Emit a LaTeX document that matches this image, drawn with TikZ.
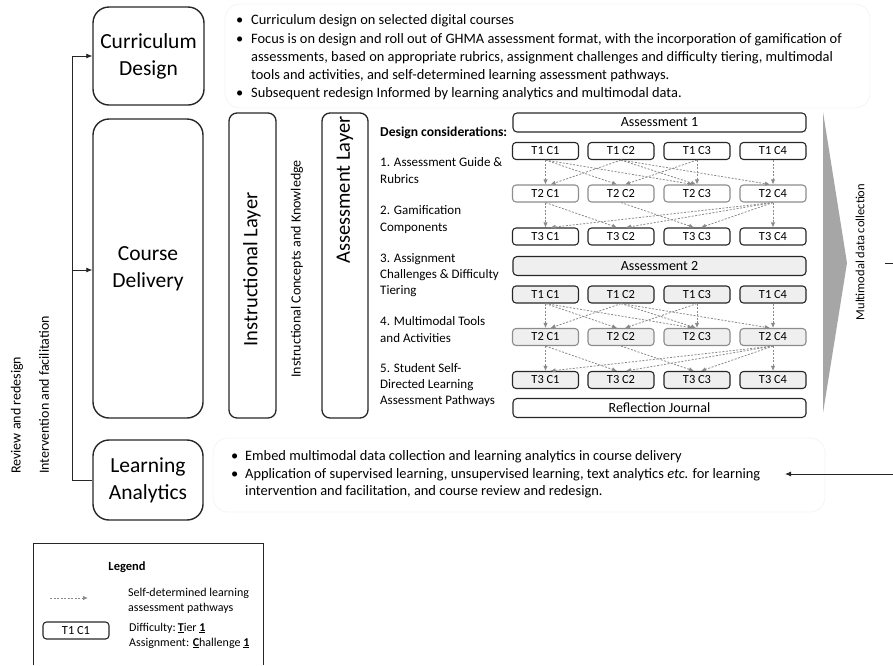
\documentclass[tikz,border=0pt]{standalone}
\usepackage{fontspec}
\setmainfont{Carlito}
\usetikzlibrary{arrows.meta}

\definecolor{ink}{HTML}{262626}
\definecolor{midgray}{HTML}{8C8C8C}
\definecolor{palefill}{HTML}{EFEFEF}
\definecolor{wedge}{HTML}{A6A6A6}
\definecolor{pathgray}{HTML}{8A8A8A}
\definecolor{faint}{HTML}{F4F4F4}

\tikzset{
  stagebox/.style={draw=ink, line width=1.4pt, rounded corners=16pt, align=center,
    font=\fontsize{21.5}{27}\selectfont, inner sep=0pt},
  layerbox/.style={draw=ink, line width=1.3pt, rounded corners=8pt, inner sep=0pt},
  bigvert/.style={rotate=90, inner sep=0pt, font=\fontsize{20.5}{24}\selectfont},
  sidevert/.style={rotate=90, anchor=west, inner sep=0pt, font=\fontsize{14}{17}\selectfont},
  bar/.style={draw=ink, line width=1.1pt, rounded corners=4pt, minimum width=293pt,
    minimum height=19pt, inner sep=0pt, font=\fontsize{14}{16}\selectfont},
  tcell/.style={draw=ink, line width=1.1pt, rounded corners=3.5pt, minimum width=66pt,
    minimum height=17pt, inner sep=0pt, font=\fontsize{12.4}{14}\selectfont},
  tcellmid/.style={tcell, draw=midgray},
  shaded/.style={fill=palefill},
  pathway/.style={draw=pathgray, line width=0.8pt, dash pattern=on 2pt off 1.5pt,
    -{Latex[length=5pt,width=4.5pt]}},
  feed/.style={draw=ink, line width=0.8pt, -{Latex[length=6pt,width=5pt]}},
  bline/.style={anchor=base west, inner sep=0pt, font=\fontsize{14.4}{18}\selectfont},
  dline/.style={anchor=base west, inner sep=0pt, font=\fontsize{13}{16}\selectfont},
  lgline/.style={anchor=base west, inner sep=0pt, font=\fontsize{12}{15}\selectfont},
  faintbox/.style={draw=faint, line width=0.8pt, rounded corners=15pt},
}

\begin{document}
\begin{tikzpicture}[x=1pt, y=-1pt]
\useasboundingbox (0,0) rectangle (893,665);

% faint text-box frames behind the bullet lists
\draw[faintbox] (225,4) rectangle (870,108);
\draw[faintbox] (213,438) rectangle (825,512);

% three stages
\node[stagebox, minimum width=111pt, minimum height=98pt] (design) at (148.5,56) {Curriculum\\Design};
\node[stagebox, minimum width=110pt, minimum height=299pt] (delivery) at (148,268.5) {Course\\Delivery};
\node[stagebox, minimum width=110pt, minimum height=80pt] (analytics) at (148,480) {Learning\\Analytics};

% feedback loop from analytics back to design and delivery
\coordinate (loopbot) at (72,480);
\coordinate (looptop) at (72,56);
\coordinate (loopmid) at (72,270);
\draw[ink, line width=0.8pt] (analytics.west) -- (loopbot) -- (looptop);
\draw[feed] (looptop) -- (design.west);
\draw[feed] (loopmid) -- (delivery.west |- loopmid);

\node[sidevert] (review) at (17,474) {Review and redesign};
\node[sidevert] (interv) at (44,474) {Intervention and facilitation};

% layers
\node[layerbox, minimum width=47pt, minimum height=305pt] (instr) at (252.5,265.5) {};
\node[bigvert] (instrtxt) at (252,269.5) {Instructional Layer};
\node[rotate=90, inner sep=0pt, font=\fontsize{14}{17}\selectfont] (concepts) at (297,269) {Instructional Concepts and Knowledge};
\node[layerbox, minimum width=46pt, minimum height=305pt] (assess) at (345,265.5) {};
\node[bigvert] (assesstxt) at (345,190) {Assessment Layer};

% design considerations
\node[dline, font=\bfseries\fontsize{13.6}{17}\selectfont] (dc0) at (380,136) {Design considerations:};
\node[dline] (dc1a) at (380,166.5) {1. Assessment Guide \&};
\node[dline] (dc1b) at (380,183.5) {Rubrics};
\node[dline] (dc2a) at (380,214.5) {2. Gamification};
\node[dline] (dc2b) at (380,231.5) {Components};
\node[dline] (dc3a) at (380,262) {3. Assignment};
\node[dline] (dc3b) at (380,278) {Challenges \& Difficulty};
\node[dline] (dc3c) at (380,294) {Tiering};
\node[dline] (dc4a) at (380,325) {4. Multimodal Tools};
\node[dline] (dc4b) at (380,342) {and Activities};
\node[dline] (dc5a) at (380,372) {5. Student Self-};
\node[dline] (dc5b) at (380,388) {Directed Learning};
\node[dline] (dc5c) at (380,404) {Assessment Pathways};

% assessment grids
\node[bar] (asmt1) at (659.5,122.5) {Assessment 1};
\node[bar, shaded] (asmt2) at (659.5,266) {Assessment 2};
\node[bar] (journal) at (659.5,408) {Reflection Journal};

\foreach \c/\x in {1/545.5,2/621,3/697,4/773}{
  \node[tcell] (a1t1c\c) at (\x,151) {T1 C\c};
  \node[tcellmid] (a1t2c\c) at (\x,193.5) {T2 C\c};
  \node[tcell] (a1t3c\c) at (\x,236.5) {T3 C\c};
  \node[tcell, shaded] (a2t1c\c) at (\x,294.5) {T1 C\c};
  \node[tcellmid, shaded] (a2t2c\c) at (\x,337) {T2 C\c};
  \node[tcell, shaded] (a2t3c\c) at (\x,380) {T3 C\c};
}

% self-determined pathways
\foreach \g in {1,2}{
  \draw[pathway] (a\g t1c1.south) -- (a\g t2c1.north);
  \draw[pathway] (a\g t1c1.south) -- ([xshift=-4pt]a\g t2c2.north);
  \draw[pathway] (a\g t1c1.south) -- ([xshift=-4pt]a\g t2c3.north);
  \draw[pathway] (a\g t1c2.south) -- ([xshift=5pt]a\g t2c1.north);
  \draw[pathway] (a\g t1c2.south) -- ([xshift=-1pt]a\g t2c3.north);
  \draw[pathway] (a\g t1c2.south) -- ([xshift=-3pt]a\g t2c4.north);
  \draw[pathway] (a\g t1c3.south) -- ([xshift=4pt]a\g t2c2.north);
  \draw[pathway] (a\g t1c3.south) -- (a\g t2c3.north);
  \draw[pathway] (a\g t1c4.south) -- (a\g t2c4.north);
  \draw[pathway] (a\g t2c1.south) -- (a\g t3c1.north);
  \draw[pathway] (a\g t2c1.south) -- ([xshift=-4pt]a\g t3c2.north);
  \draw[pathway] (a\g t2c2.south) -- ([xshift=-3pt]a\g t3c3.north);
  \draw[pathway] (a\g t2c4.south) -- ([xshift=5pt]a\g t3c1.north);
  \draw[pathway] (a\g t2c4.south) -- ([xshift=5pt]a\g t3c2.north);
  \draw[pathway] (a\g t2c4.south) -- ([xshift=4pt]a\g t3c3.north);
  \draw[pathway] (a\g t2c4.south) -- (a\g t3c4.north);
}

% data collection wedge
\fill[wedge] (823,112) -- (847,263) -- (823,413) -- cycle;
\node[rotate=90, inner sep=0pt, font=\fontsize{12.5}{15}\selectfont] (mmdc) at (860,252) {Multimodal data collection};
\coordinate (tickL) at (885,263);
\coordinate (tickR) at (893,263);
\draw[ink, line width=0.8pt] (tickL) -- (tickR);
\coordinate (backR) at (893,474);
\coordinate (backL) at (785,474);
\draw[feed] (backR) -- (backL);

% curriculum design notes
\node[bline] (cb1) at (236,24) {•};
\node[bline] (ct1) at (251,24) {Curriculum design on selected digital courses};
\node[bline] (cb2) at (236,43) {•};
\node[bline] (ct2) at (251,43) {Focus is on design and roll out of GHMA assessment format, with the incorporation of gamification of};
\node[bline] (ct3) at (251,61) {assessments, based on appropriate rubrics, assignment challenges and difficulty tiering, multimodal};
\node[bline] (ct4) at (251,79) {tools and activities, and self-determined learning assessment pathways.};
\node[bline] (cb5) at (236,97) {•};
\node[bline] (ct5) at (251,97) {Subsequent redesign Informed by learning analytics and multimodal data.};

% learning analytics notes
\node[bline] (lb1) at (231,460) {•};
\node[bline] (lt1) at (245,460) {Embed multimodal data collection and learning analytics in course delivery};
\node[bline] (lb2) at (231,478) {•};
\node[bline] (lt2) at (245,478) {Application of supervised learning, unsupervised learning, text analytics \textit{etc.} for learning};
\node[bline] (lt3) at (245,495) {intervention and facilitation, and course review and redesign.};

% legend
\draw[ink, line width=1pt] (33,665) -- (33,543) -- (263,543) -- (263,665);
\node[inner sep=0pt, font=\bfseries\fontsize{12.5}{15}\selectfont] (legtitle) at (127,567) {Legend};
\coordinate (legA) at (50,598);
\coordinate (legB) at (88,598);
\draw[pathway] (legA) -- (legB);
\node[lgline] (lg1) at (128,596) {Self-determined learning};
\node[lgline] (lg2) at (128,611) {assessment pathways};
\node[tcell] (legcell) at (76,630.5) {T1 C1};
\node[lgline] (lg3) at (129,631) {Difficulty:\,\underline{\textbf{T}}ier \underline{\textbf{1}}};
\node[lgline] (lg4) at (129,646) {Assignment: \underline{\textbf{C}}hallenge \underline{\textbf{1}}};
\end{tikzpicture}
\end{document}
